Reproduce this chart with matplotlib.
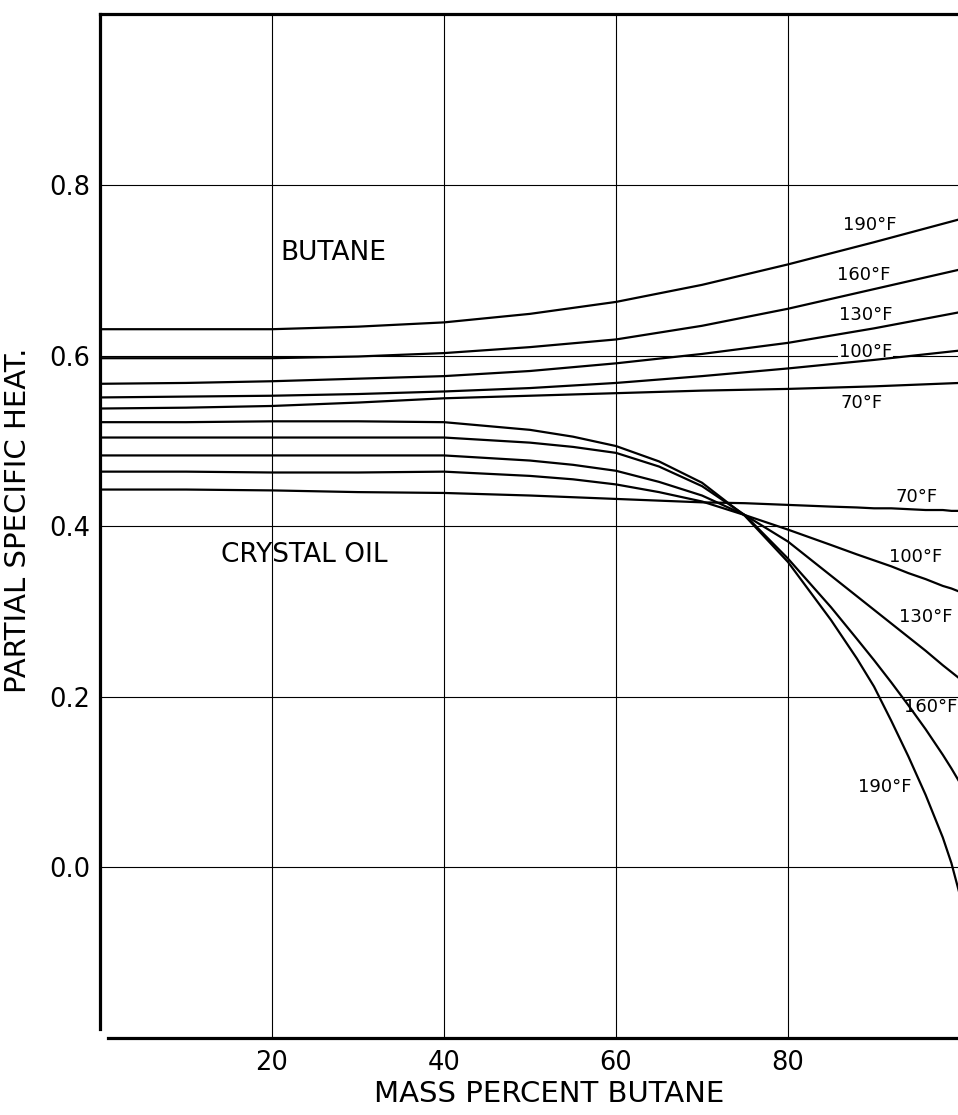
import matplotlib
matplotlib.use('Agg')
import matplotlib.pyplot as plt

# partial specific heat of butane / crystal oil vs mass percent butane
x_bu = [0, 10, 20, 30, 40, 50, 60, 70, 80, 90, 100]
bu_190 = [0.631, 0.631, 0.631, 0.634, 0.639, 0.649, 0.663, 0.683, 0.707, 0.733, 0.760]
bu_160 = [0.597, 0.597, 0.597, 0.599, 0.603, 0.610, 0.619, 0.635, 0.655, 0.678, 0.701]
bu_130 = [0.567, 0.568, 0.570, 0.573, 0.576, 0.582, 0.591, 0.602, 0.615, 0.632, 0.651]
bu_100 = [0.551, 0.552, 0.553, 0.555, 0.558, 0.562, 0.568, 0.576, 0.585, 0.595, 0.606]
bu_70 = [0.538, 0.539, 0.541, 0.545, 0.550, 0.553, 0.556, 0.559, 0.561, 0.564, 0.568]

x_co = [0, 10, 20, 30, 40, 50, 55, 60, 65, 70, 75, 80, 85, 88, 90, 92, 94, 96, 98, 99, 100]
co_190 = [0.522, 0.522, 0.523, 0.523, 0.522, 0.513, 0.505, 0.494, 0.476, 0.451, 0.412,
          0.358, 0.290, 0.245, 0.212, 0.172, 0.130, 0.085, 0.035, 0.005, -0.033]
co_160 = [0.504, 0.504, 0.504, 0.504, 0.504, 0.498, 0.493, 0.486, 0.470, 0.447, 0.413,
          0.362, 0.305, 0.268, 0.243, 0.217, 0.190, 0.162, 0.132, 0.116, 0.099]
co_130 = [0.483, 0.483, 0.483, 0.483, 0.483, 0.477, 0.472, 0.465, 0.452, 0.436, 0.413,
          0.382, 0.342, 0.318, 0.302, 0.286, 0.270, 0.254, 0.237, 0.229, 0.221]
co_100 = [0.464, 0.464, 0.463, 0.463, 0.464, 0.459, 0.455, 0.449, 0.440, 0.429, 0.413,
          0.396, 0.378, 0.367, 0.360, 0.353, 0.345, 0.338, 0.330, 0.327, 0.323]
co_70 = [0.443, 0.443, 0.442, 0.440, 0.439, 0.436, 0.434, 0.432, 0.430, 0.428, 0.427,
         0.425, 0.423, 0.422, 0.421, 0.421, 0.420, 0.419, 0.419, 0.418, 0.418]

x_ticks = [20, 40, 60, 80]
y_ticks = [0.0, 0.2, 0.4, 0.6, 0.8]

fig = plt.figure(figsize=(9.58, 11.15), dpi=100)
ax = fig.add_axes([0.1044, 0.0691, 0.8977, 0.9179])

for ys in [bu_190, bu_160, bu_130, bu_100, bu_70]:
    ax.plot(x_bu, ys, color='black', lw=1.6)
for ys in [co_190, co_160, co_130, co_100, co_70]:
    ax.plot(x_co, ys, color='black', lw=1.6)

ax.set_xlim(0, 100)
ax.set_ylim(-0.2, 1.0)
ax.set_xticks(x_ticks)
ax.set_xticklabels([str(v) for v in x_ticks])
ax.set_yticks(y_ticks)
ax.set_yticklabels(['%.1f' % v for v in y_ticks])
ax.tick_params(length=0, labelsize=18.5)
ax.tick_params(axis='x', pad=9)
ax.tick_params(axis='y', pad=7)
ax.grid(True, color='black', lw=0.8)
ax.set_axisbelow(True)

for s in ['left', 'top', 'bottom']:
    ax.spines[s].set_linewidth(2.3)
ax.spines['right'].set_visible(False)
ax.spines['left'].set_bounds(-0.19, 1.0)
ax.spines['bottom'].set_bounds(0.9, 100)

ax.set_xlabel('MASS PERCENT BUTANE', fontsize=21)
ax.xaxis.set_label_coords(0.522, -0.041)
ax.xaxis.label.set_va('top')
ax.set_ylabel('PARTIAL SPECIFIC HEAT.', fontsize=21)
ax.yaxis.set_label_coords(-0.079, 0.506)

ax.text(27.1, 0.720, 'BUTANE', fontsize=19, ha='center', va='center')
ax.text(23.8, 0.366, 'CRYSTAL OIL', fontsize=19, ha='center', va='center')

# curve labels
lab = dict(fontsize=13, ha='center', va='center')
ax.text(89.5, 0.753, '190°F', **lab)
ax.text(88.8, 0.694, '160°F', **lab)
ax.text(89.0, 0.648, '130°F', **lab)
ax.text(89.0, 0.604, '100°F', bbox=dict(fc='white', ec='none', pad=0.5),
        zorder=1.5, **lab)
ax.text(88.6, 0.544, '70°F', **lab)
ax.text(95.0, 0.434, '70°F', **lab)
ax.text(94.8, 0.364, '100°F', **lab)
ax.text(96.0, 0.293, '130°F', **lab)
ax.text(96.6, 0.188, '160°F', **lab)
ax.text(91.2, 0.094, '190°F', **lab)

fig.savefig('out.png', dpi=100)
